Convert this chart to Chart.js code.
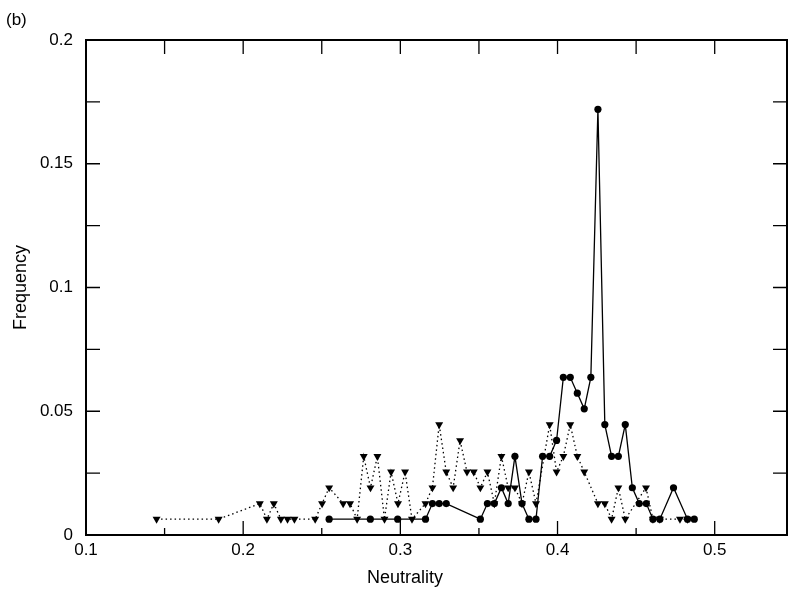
<!DOCTYPE html>
<html>
<head>
<meta charset="utf-8">
<script src="https://cdn.jsdelivr.net/npm/chart.js@4.4.1/dist/chart.umd.min.js"></script>
<style>
    html, body { margin:0; padding:0; background:#ffffff; }
    #contenedor { width:788px; height:594px; }
</style>
</head>
<body>
<div id="contenedor"><canvas id="grafico"></canvas></div>
<script>
// serie con circulos (linea continua)
const neutralidadCirculos = [0.2547, 0.2809, 0.2983, 0.3160, 0.3204, 0.3247, 0.3292, 0.3509, 0.3554, 0.3598,
    0.3643, 0.3686, 0.3729, 0.3774, 0.3818, 0.3863, 0.3905, 0.3950, 0.3994, 0.4037,
    0.4081, 0.4126, 0.4170, 0.4212, 0.4257, 0.4301, 0.4344, 0.4387, 0.4431, 0.4476,
    0.4520, 0.4565, 0.4607, 0.4651, 0.4738, 0.4827, 0.4870];
const frecuenciaCirculos = [0.0064, 0.0064, 0.0064, 0.0064, 0.0127, 0.0127, 0.0127, 0.0064, 0.0127, 0.0127,
    0.0191, 0.0127, 0.0318, 0.0127, 0.0064, 0.0064, 0.0318, 0.0318, 0.0382, 0.0637,
    0.0637, 0.0573, 0.0510, 0.0637, 0.1720, 0.0446, 0.0318, 0.0318, 0.0446, 0.0191,
    0.0127, 0.0127, 0.0064, 0.0064, 0.0191, 0.0064, 0.0064];

// serie con triangulos (linea punteada)
const neutralidadTriangulos = [0.1449, 0.1844, 0.2106, 0.2151, 0.2195, 0.2240, 0.2282, 0.2326, 0.2458, 0.2502,
    0.2547, 0.2636, 0.2680, 0.2725, 0.2767, 0.2810, 0.2854, 0.2899, 0.2941, 0.2985,
    0.3030, 0.3074, 0.3160, 0.3204, 0.3247, 0.3292, 0.3336, 0.3380, 0.3424, 0.3467,
    0.3509, 0.3554, 0.3598, 0.3643, 0.3686, 0.3729, 0.3774, 0.3818, 0.3863, 0.3950,
    0.3994, 0.4037, 0.4081, 0.4126, 0.4170, 0.4257, 0.4301, 0.4344, 0.4387, 0.4431,
    0.4563, 0.4607, 0.4651, 0.4779, 0.4827];
const frecuenciaTriangulos = [0.0064, 0.0064, 0.0127, 0.0064, 0.0127, 0.0064, 0.0064, 0.0064, 0.0064, 0.0127,
    0.0191, 0.0127, 0.0127, 0.0064, 0.0318, 0.0191, 0.0318, 0.0064, 0.0255, 0.0127,
    0.0255, 0.0064, 0.0127, 0.0191, 0.0446, 0.0255, 0.0191, 0.0382, 0.0255, 0.0255,
    0.0191, 0.0255, 0.0127, 0.0318, 0.0191, 0.0191, 0.0127, 0.0255, 0.0127, 0.0446,
    0.0255, 0.0318, 0.0446, 0.0318, 0.0255, 0.0127, 0.0127, 0.0064, 0.0191, 0.0064,
    0.0191, 0.0064, 0.0064, 0.0064, 0.0064];

const ticksX = [0.1, 0.2, 0.3, 0.4, 0.5];
const ticksXMenores = [0.15, 0.25, 0.35, 0.45];
const ticksY = [0, 0.05, 0.1, 0.15, 0.2];
const ticksYMenores = [0.025, 0.075, 0.125, 0.175];

const fuente = '"Liberation Sans", Arial, sans-serif';

function armarPuntos(xs, ys){
    return xs.map(function(x, i){
        return { x: x, y: ys[i] };
    });
}

// marco completo con ticks hacia adentro, titulo X y rotulo (b)
const marco = {
    id: 'marco',
    afterDraw: function(chart){
        const ctx = chart.ctx;
        const area = chart.chartArea;
        const sx = chart.scales.x;
        const sy = chart.scales.y;

        ctx.save();
        ctx.strokeStyle = '#000000';
        ctx.lineWidth = 1.3;
        ctx.beginPath();
        ticksX.forEach(function(v){
            const px = sx.getPixelForValue(v);
            ctx.moveTo(px, area.bottom); ctx.lineTo(px, area.bottom - 14);
            ctx.moveTo(px, area.top); ctx.lineTo(px, area.top + 14);
        });
        ticksXMenores.forEach(function(v){
            const px = sx.getPixelForValue(v);
            ctx.moveTo(px, area.bottom); ctx.lineTo(px, area.bottom - 7);
            ctx.moveTo(px, area.top); ctx.lineTo(px, area.top + 14);
        });
        ticksY.concat(ticksYMenores).forEach(function(v){
            const py = sy.getPixelForValue(v);
            ctx.moveTo(area.left, py); ctx.lineTo(area.left + 14, py);
            ctx.moveTo(area.right, py); ctx.lineTo(area.right - 14, py);
        });
        ctx.stroke();

        ctx.lineWidth = 2;
        ctx.strokeRect(area.left, area.top, area.right - area.left, area.bottom - area.top);

        ctx.fillStyle = '#000000';
        ctx.font = '18px ' + fuente;
        ctx.textAlign = 'center';
        ctx.textBaseline = 'middle';
        ctx.fillText('Neutrality', 405, 578);

        ctx.font = '17px ' + fuente;
        ctx.textAlign = 'left';
        ctx.fillText('(b)', 6, 20);
        ctx.restore();
    }
};

const ctx = document.getElementById('grafico');

new Chart(ctx, {
    type: 'scatter',
    plugins: [marco],
    data: {
        datasets: [
            {
                label: 'circulos',
                data: armarPuntos(neutralidadCirculos, frecuenciaCirculos),
                showLine: true,
                borderColor: '#000000',
                backgroundColor: '#000000',
                borderWidth: 1.3,
                pointStyle: 'circle',
                pointRadius: 3.6,
                pointBorderWidth: 0,
                order: 0
            },
            {
                label: 'triangulos',
                data: armarPuntos(neutralidadTriangulos, frecuenciaTriangulos),
                showLine: true,
                borderColor: '#000000',
                backgroundColor: '#000000',
                borderWidth: 1.3,
                borderDash: [1.5, 3],
                pointStyle: 'triangle',
                pointRotation: 180,
                pointRadius: 4.6,
                pointBorderWidth: 0,
                order: 1
            }
        ]
    },
    options: {
        responsive: true,
        maintainAspectRatio: false,
        animation: false,
        layout: {
            autoPadding: false,
            padding: { left: 0, right: 1, top: 40, bottom: 0 }
        },
        plugins: {
            legend: { display: false },
            tooltip: { enabled: false }
        },
        scales: {
            x: {
                type: 'linear',
                min: 0.1,
                max: 0.546,
                grid: { display: false, drawTicks: false },
                border: { display: false },
                afterBuildTicks: function(scale){
                    scale.ticks = ticksX.map(function(v){ return { value: v }; });
                },
                afterFit: function(scale){
                    scale.height = 59;
                    scale.paddingLeft = 0;
                    scale.paddingRight = 0;
                },
                ticks: {
                    padding: 5,
                    color: '#000000',
                    maxRotation: 0,
                    font: { family: fuente, size: 17 },
                    callback: function(v){ return String(v); }
                }
            },
            y: {
                type: 'linear',
                min: 0,
                max: 0.2,
                grid: { display: false, drawTicks: false },
                border: { display: false },
                afterBuildTicks: function(scale){
                    scale.ticks = ticksY.map(function(v){ return { value: v }; });
                },
                afterFit: function(scale){
                    scale.width = 86;
                    scale.paddingTop = 0;
                    scale.paddingBottom = 0;
                },
                title: {
                    display: true,
                    text: 'Frequency',
                    color: '#000000',
                    font: { family: fuente, size: 18 },
                    padding: { top: 10, bottom: 0 }
                },
                ticks: {
                    padding: 13,
                    color: '#000000',
                    font: { family: fuente, size: 17 },
                    callback: function(v){ return String(v); }
                }
            }
        }
    }
});
</script>
</body>
</html>
